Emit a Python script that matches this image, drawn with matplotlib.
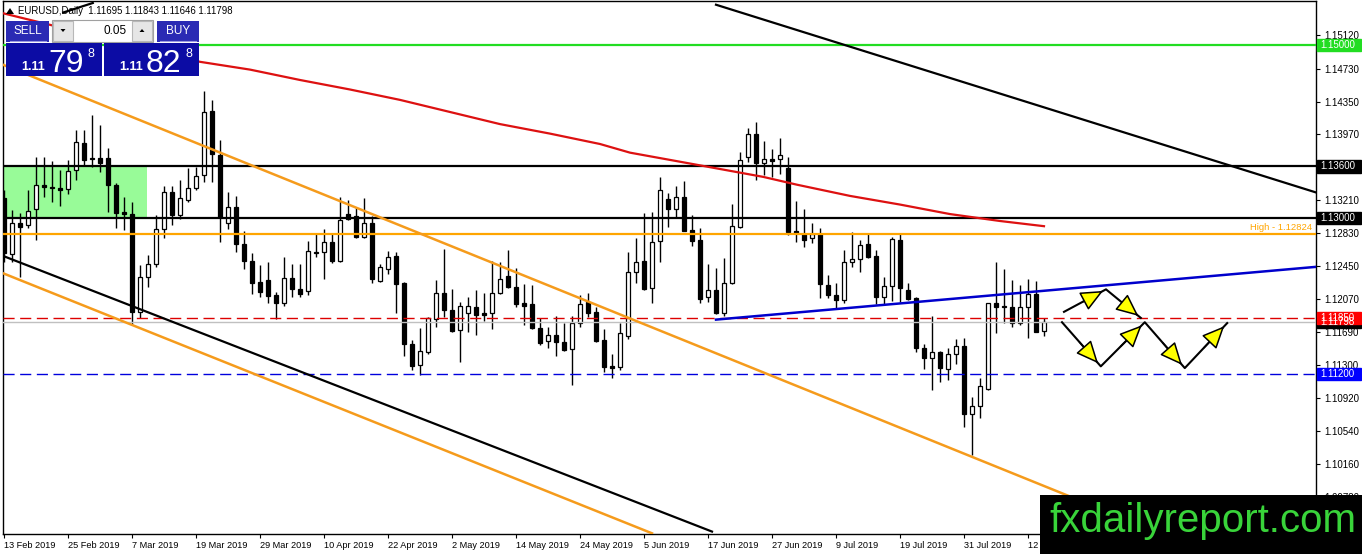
import matplotlib
matplotlib.use('Agg')
import matplotlib.pyplot as plt
from matplotlib.patches import Rectangle, FancyArrowPatch, Polygon
import numpy as np

plt.rcParams['font.family'] = ['Liberation Sans', 'DejaVu Sans']

# EURUSD daily candles, 13 Feb 2019 .. 14 Aug 2019
opens = [1.1324, 1.1259, 1.1295, 1.1292, 1.1311, 1.1339, 1.1336, 1.1335, 1.1334, 1.1356,
         1.1387, 1.1370, 1.1370, 1.1370, 1.1339, 1.1307, 1.1305, 1.1192, 1.1232, 1.1247,
         1.1288, 1.1330, 1.1304, 1.1321, 1.1335, 1.1350, 1.1424, 1.1373, 1.1295, 1.1313,
         1.1270, 1.1251, 1.1226, 1.1229, 1.1211, 1.1202, 1.1231, 1.1218, 1.1216, 1.1261,
         1.1261, 1.1273, 1.1251, 1.1305, 1.1303, 1.1278, 1.1295, 1.1228, 1.1241, 1.1257,
         1.1225, 1.1155, 1.1131, 1.1146, 1.1184, 1.1214, 1.1194, 1.1171, 1.1191, 1.1198,
         1.1191, 1.1191, 1.1214, 1.1233, 1.1221, 1.1202, 1.1201, 1.1173, 1.1158, 1.1165,
         1.1157, 1.1149, 1.1179, 1.1203, 1.1192, 1.1159, 1.1129, 1.1128, 1.1164, 1.1238,
         1.1251, 1.1220, 1.1274, 1.1323, 1.1311, 1.1325, 1.1287, 1.1275, 1.1209, 1.1217,
         1.1191, 1.1225, 1.1290, 1.1371, 1.1398, 1.1364, 1.1369, 1.1369, 1.1358, 1.1285,
         1.1282, 1.1277, 1.1282, 1.1223, 1.1212, 1.1206, 1.1250, 1.1253, 1.1270, 1.1257,
         1.1209, 1.1222, 1.1275, 1.1217, 1.1208, 1.1150, 1.1139, 1.1146, 1.1126, 1.1143,
         1.1152, 1.1074, 1.1083, 1.1103, 1.1202, 1.1199, 1.1198, 1.1179, 1.1198, 1.1213,
         1.11695]
highs = [1.1333, 1.1310, 1.1306, 1.1333, 1.1371, 1.1371, 1.1366, 1.1356, 1.1367, 1.1402,
         1.1402, 1.1420, 1.1408, 1.1381, 1.1341, 1.1325, 1.1319, 1.1246, 1.1258, 1.1304,
         1.1338, 1.1338, 1.1344, 1.1358, 1.1359, 1.1447, 1.1437, 1.1391, 1.1330, 1.1326,
         1.1285, 1.1260, 1.1246, 1.1250, 1.1215, 1.1255, 1.1247, 1.1247, 1.1274, 1.1282,
         1.1288, 1.1283, 1.1325, 1.1321, 1.1313, 1.1324, 1.1303, 1.1247, 1.1262, 1.1261,
         1.1226, 1.1159, 1.1173, 1.1186, 1.1229, 1.1265, 1.1218, 1.1203, 1.1209, 1.1217,
         1.1214, 1.1251, 1.1250, 1.1263, 1.1243, 1.1224, 1.1223, 1.1185, 1.1174, 1.1187,
         1.1179, 1.1187, 1.1211, 1.1214, 1.1198, 1.1172, 1.1143, 1.1179, 1.1261, 1.1277,
         1.1306, 1.1307, 1.1348, 1.1329, 1.1338, 1.1343, 1.1304, 1.1289, 1.1247, 1.1243,
         1.1254, 1.1317, 1.1377, 1.1404, 1.1411, 1.1390, 1.1380, 1.1393, 1.1371, 1.1320,
         1.1311, 1.1295, 1.1289, 1.1235, 1.1225, 1.1263, 1.1284, 1.1275, 1.1282, 1.1263,
         1.1232, 1.1278, 1.1282, 1.1225, 1.1209, 1.1155, 1.1187, 1.1147, 1.1150, 1.1161,
         1.1162, 1.1094, 1.1115, 1.1202, 1.1250, 1.1241, 1.1229, 1.1223, 1.1230, 1.1228,
         1.11843]
lows = [1.1250, 1.1250, 1.1232, 1.1289, 1.1275, 1.1325, 1.1319, 1.1314, 1.1328, 1.1344,
        1.1362, 1.1359, 1.1354, 1.1307, 1.1289, 1.1287, 1.1177, 1.1185, 1.1221, 1.1244,
        1.1277, 1.1292, 1.1299, 1.1319, 1.1333, 1.1342, 1.1342, 1.1273, 1.1288, 1.1261,
        1.1241, 1.1213, 1.1209, 1.1202, 1.1184, 1.1199, 1.1209, 1.1209, 1.1211, 1.1255,
        1.1230, 1.1248, 1.1250, 1.1298, 1.1277, 1.1277, 1.1225, 1.1226, 1.1236, 1.1191,
        1.1141, 1.1125, 1.1119, 1.1143, 1.1174, 1.1186, 1.1169, 1.1134, 1.1169, 1.1165,
        1.1181, 1.1172, 1.1213, 1.1220, 1.1198, 1.1177, 1.1172, 1.1154, 1.1150, 1.1141,
        1.1147, 1.1107, 1.1174, 1.1186, 1.1157, 1.1122, 1.1115, 1.1125, 1.1161, 1.1225,
        1.1217, 1.1202, 1.1250, 1.1290, 1.1302, 1.1285, 1.1268, 1.1202, 1.1203, 1.1190,
        1.1187, 1.1224, 1.1289, 1.1365, 1.1344, 1.1350, 1.1348, 1.1351, 1.1281, 1.1273,
        1.1267, 1.1272, 1.1208, 1.1208, 1.1196, 1.1202, 1.1244, 1.1238, 1.1254, 1.1201,
        1.1200, 1.1204, 1.1203, 1.1206, 1.1146, 1.1126, 1.1102, 1.1111, 1.1113, 1.1132,
        1.1059, 1.1027, 1.1069, 1.1102, 1.1167, 1.1179, 1.1174, 1.1177, 1.1162, 1.1169,
        1.11646]
closes = [1.1260, 1.1295, 1.1290, 1.1309, 1.1339, 1.1336, 1.1335, 1.1333, 1.1355, 1.1388,
          1.1367, 1.1369, 1.1364, 1.1339, 1.1306, 1.1305, 1.1192, 1.1232, 1.1247, 1.1288,
          1.1330, 1.1304, 1.1324, 1.1335, 1.1349, 1.1423, 1.1374, 1.1302, 1.1313, 1.1270,
          1.1251, 1.1225, 1.1215, 1.1210, 1.1202, 1.1231, 1.1218, 1.1213, 1.1262, 1.1260,
          1.1273, 1.1251, 1.1298, 1.1299, 1.1278, 1.1295, 1.1230, 1.1244, 1.1255, 1.1224,
          1.1155, 1.1129, 1.1147, 1.1185, 1.1214, 1.1194, 1.1170, 1.1199, 1.1199, 1.1188,
          1.1188, 1.1214, 1.1230, 1.1221, 1.1201, 1.1199, 1.1173, 1.1156, 1.1165, 1.1157,
          1.1148, 1.1179, 1.1201, 1.1191, 1.1158, 1.1128, 1.1127, 1.1167, 1.1238, 1.1250,
          1.1218, 1.1273, 1.1333, 1.1311, 1.1325, 1.1286, 1.1274, 1.1207, 1.1217, 1.1191,
          1.1225, 1.1291, 1.1367, 1.1398, 1.1364, 1.1369, 1.1366, 1.1373, 1.1284, 1.1283,
          1.1275, 1.1282, 1.1224, 1.1212, 1.1206, 1.1250, 1.1253, 1.1269, 1.1255, 1.1209,
          1.1222, 1.1276, 1.1220, 1.1207, 1.1150, 1.1139, 1.1146, 1.1127, 1.1143, 1.1152,
          1.1074, 1.1083, 1.1106, 1.1202, 1.1198, 1.1198, 1.1179, 1.1198, 1.1213, 1.1169,
          1.11798]

date_ticks = list(range(0, 129, 8))
date_labels = ['13 Feb 2019', '25 Feb 2019', '7 Mar 2019', '19 Mar 2019', '29 Mar 2019',
               '10 Apr 2019', '22 Apr 2019', '2 May 2019', '14 May 2019', '24 May 2019',
               '5 Jun 2019', '17 Jun 2019', '27 Jun 2019', '9 Jul 2019', '19 Jul 2019',
               '31 Jul 2019', '12 Aug 2019']
# 1.13590 sits under the 1.13600 box in the terminal, so it is left out
price_ticks = [1.1512, 1.1473, 1.1435, 1.1397, 1.1321, 1.1283, 1.1245,
               1.1207, 1.1169, 1.1130, 1.1092, 1.1054, 1.1016, 1.0978]

# moving average (red), sampled along the bars
ma_idx = [-0.5, 24.5, 30.75, 37, 43.25, 49.5, 55.75, 62, 68.25, 74.5, 78.25, 86.6,
          94.9, 99.1, 105.75, 112, 118.25, 124.5, 130]
ma_val = [1.1538, 1.1481, 1.1472, 1.1460, 1.1449, 1.1437, 1.1423, 1.1409, 1.1398,
          1.1386, 1.1376, 1.1362, 1.1348, 1.1339, 1.1326, 1.1316, 1.1305, 1.1297, 1.1291]

# drawn objects: trend lines (bar index, price)
black_top = ([89, 164], [1.1547, 1.1330])
black_low = ([-0.5, 88.5], [1.1258, 1.0938])
orange_top = ([-0.5, 135], [1.1479, 1.0972])
orange_low = ([-0.5, 81], [1.1238, 1.0936])
blue_trend = ([89, 164], [1.1183, 1.1244])
black_stub = ([7.4, 11.1], [1.1538, 1.1549])
zone_x = (-0.5, 17.9)
zone_y = (1.1300, 1.1360)
path_a_x = [132.5, 137.75, 142.1]
path_a_y = [1.1192, 1.1218, 1.1185]
path_b_x = [132.25, 137.1, 142.6, 147.6, 152.9]
path_b_y = [1.1180, 1.1129, 1.1180, 1.1127, 1.1179]

W, H = 1362, 554
fig = plt.figure(figsize=(W / 100, H / 100), dpi=100)
ax = fig.add_axes([3 / W, (H - 534) / H, 1313 / W, 533 / H])
ax.set_xlim(-0.125, 164.0)
ax.set_ylim(1.09352, 1.15513)

idx = np.arange(len(opens))
o = np.array(opens); c = np.array(closes)
ax.vlines(idx, lows, highs, color='black', lw=1, zorder=2)
bull = c >= o
body = np.maximum(np.abs(c - o), 0.00002)
ax.bar(idx[bull], body[bull], bottom=o[bull], width=0.62, color='white',
       edgecolor='black', linewidth=0.9, zorder=2.5)
ax.bar(idx[~bull], body[~bull], bottom=c[~bull], width=0.62, color='black',
       edgecolor='black', linewidth=0.9, zorder=2.5)

ax.add_patch(Rectangle((zone_x[0], zone_y[0]), zone_x[1] - zone_x[0], zone_y[1] - zone_y[0],
                       fc='#98fb98', ec='none', zorder=1))

ax.axhline(1.15, color='#22dd22', lw=1.6, zorder=3)
ax.axhline(1.136, color='black', lw=1.6, zorder=3)
ax.axhline(1.13, color='black', lw=1.6, zorder=3)
ax.axhline(1.12824, color='#ffa500', lw=1.6, zorder=3)
ax.axhline(1.11798, color='#c0c0c0', lw=1, zorder=3)
ax.axhline(1.1185, color='#dd0000', lw=1, ls=(0, (8, 4)), zorder=3)
ax.axhline(1.112, color='#0000dd', lw=1, ls=(0, (8, 4)), zorder=3)

ax.plot(*black_top, color='black', lw=1.6, zorder=3)
ax.plot(*black_low, color='black', lw=1.6, zorder=3)
ax.plot(*orange_top, color='#f59b1c', lw=1.8, zorder=3)
ax.plot(*orange_low, color='#f59b1c', lw=1.8, zorder=3)
ax.plot(*blue_trend, color='#0000cc', lw=1.8, zorder=3)
ax.plot(*black_stub, color='black', lw=1.6, zorder=3)
ax.plot(ma_idx, ma_val, color='#dd1111', lw=1.6, zorder=3)

ax.text(163.5, 1.12824 + 0.0002, 'High - 1.12824', color='#ffa500', fontsize=6.8,
        ha='right', va='bottom', zorder=4)

# zig-zag scenario arrows
for px, py in [(path_a_x, path_a_y), (path_b_x, path_b_y)]:
    ax.plot(px, py, color='black', lw=1.5, zorder=4)
    for k in range(len(px) - 1):
        x0, y0, x1, y1 = px[k], py[k], px[k + 1], py[k + 1]
        a = FancyArrowPatch((x0 + 0.45 * (x1 - x0), y0 + 0.45 * (y1 - y0)),
                            (x0 + 0.93 * (x1 - x0), y0 + 0.93 * (y1 - y0)),
                            arrowstyle='-|>,head_length=1.0,head_width=0.45',
                            mutation_scale=14, fc='#ffff00', ec='black', lw=1.1,
                            shrinkA=0, shrinkB=0, zorder=5)
        ax.add_patch(a)

# axes styling like the terminal
for s in ax.spines.values():
    s.set_linewidth(1)
ax.yaxis.tick_right()
ax.set_yticks(price_ticks)
ax.set_yticklabels([f'{t:.5f}' for t in price_ticks])
ax.tick_params(axis='y', direction='out', length=3, pad=3, labelsize=7)
ax.set_xticks(date_ticks)
ax.set_xticklabels(date_labels)
ax.tick_params(axis='x', direction='out', length=3, pad=2, labelsize=6.6)
for lbl in ax.get_xticklabels():
    lbl.set_ha('left')

# price label boxes on the right scale
ytr = ax.get_yaxis_transform()
for price, txt, bg in [(1.15, '1.15000', '#22dd22'), (1.136, '1.13600', 'black'),
                       (1.13, '1.13000', 'black'), (1.11798, '1.11798', 'black'),
                       (1.1185, '1.11850', '#ff0000'), (1.112, '1.11200', '#0000ff')]:
    ax.add_patch(Rectangle((1.0008, price - 0.0007), 0.0335, 0.0014, transform=ytr,
                           fc=bg, ec=bg, clip_on=False, zorder=6))
    ax.text(1.0030, price, txt, transform=ytr, color='white', fontsize=7,
            ha='left', va='center', clip_on=False, zorder=7)

# overlay in pixel coordinates: header, trade panel, watermark
ov = fig.add_axes([0, 0, 1, 1], facecolor='none')
ov.set_xlim(0, W)
ov.set_ylim(H, 0)
ov.axis('off')

ov.add_patch(Polygon([(6, 14), (14, 14), (10, 8)], closed=True, fc='black', ec='none'))
ov.text(18, 11, 'EURUSD,Daily  1.11695 1.11843 1.11646 1.11798', fontsize=6.9,
        ha='left', va='center', color='black')

btn = '#2a2ab4'
box = '#0c0ca4'
ov.add_patch(Rectangle((6, 21), 43, 21, fc=btn, ec='none'))
ov.add_patch(Rectangle((157, 21), 42, 21, fc=btn, ec='none'))
ov.plot([10, 46], [41, 41], color='#9a9ae0', lw=0.8)
ov.plot([160, 196], [41, 41], color='#9a9ae0', lw=0.8)
ov.text(28, 31, 'SELL', color='white', fontsize=8.5, ha='center', va='center')
ov.text(178, 31, 'BUY', color='white', fontsize=8.5, ha='center', va='center')
ov.add_patch(Rectangle((52, 20), 101, 22, fc='white', ec='#a0a0a0', lw=0.8))
ov.add_patch(Rectangle((53, 21), 20, 20, fc='#e6e6e6', ec='#b8b8b8', lw=0.8))
ov.add_patch(Rectangle((132, 21), 20, 20, fc='#e6e6e6', ec='#b8b8b8', lw=0.8))
ov.add_patch(Polygon([(60.5, 29), (65.5, 29), (63, 32)], closed=True, fc='black', ec='none'))
ov.add_patch(Polygon([(139.5, 32), (144.5, 32), (142, 29)], closed=True, fc='black', ec='none'))
ov.text(127, 31, '0.05', color='black', fontsize=8.5, ha='right', va='center')

ov.add_patch(Rectangle((6, 43), 96, 33, fc=box, ec='none'))
ov.add_patch(Rectangle((104, 43), 95, 33, fc=box, ec='none'))
for x0, big in [(21, '79'), (119, '82')]:
    ov.text(x0, 70, '1.11', color='white', fontsize=9, fontweight='bold',
            ha='left', va='baseline')
    ov.text(x0 + 27, 72, big, color='white', fontsize=23, ha='left', va='baseline')
    ov.text(x0 + 66, 57, '8', color='white', fontsize=9, ha='left', va='baseline')

ov.add_patch(Rectangle((1040, 495), 322, 59, fc='black', ec='none', zorder=8))
ov.text(1049, 521, 'fxdailyreport.com', color='#39d43a', fontsize=29,
        ha='left', va='center', zorder=9)

fig.savefig('out.png', dpi=100, facecolor='white')
